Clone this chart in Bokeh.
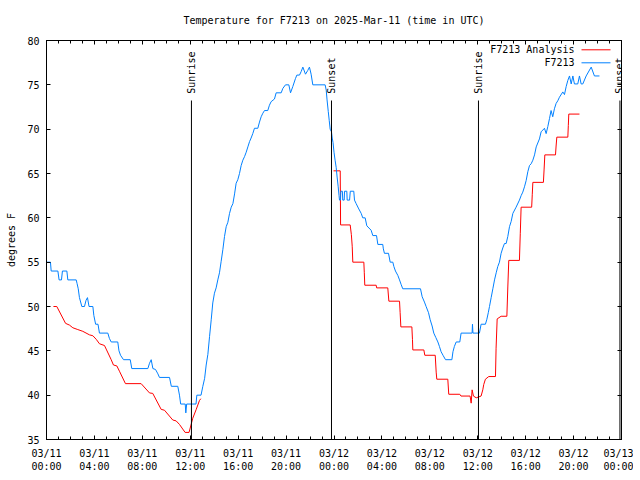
import math
from bokeh.plotting import figure
from bokeh.models import FixedTicker, LinearAxis, Range1d, Label
from bokeh.core.properties import value
from bokeh.embed import file_html
from bokeh.resources import INLINE

# ---------------- data ----------------
title_text = "Temperature for F7213 on 2025-Mar-11 (time in UTC)"
y_label = "degrees F"

tick_hours = [0, 4, 8, 12, 16, 20, 24, 28, 32, 36, 40, 44, 48]
tick_labels = ["03/11\n00:00", "03/11\n04:00", "03/11\n08:00", "03/11\n12:00",
               "03/11\n16:00", "03/11\n20:00", "03/12\n00:00", "03/12\n04:00",
               "03/12\n08:00", "03/12\n12:00", "03/12\n16:00", "03/12\n20:00",
               "03/13\n00:00"]
minor_hours = list(range(0, 49))
y_ticks = [35, 40, 45, 50, 55, 60, 65, 70, 75, 80]

# F7213 observations (hours since 03/11 00:00 UTC, deg F)
obs_hours = [0.00, 0.33, 0.39, 0.95, 1.05, 1.25, 1.33, 1.70, 1.78, 2.48, 2.55, 2.65, 2.75, 2.95,
             3.17, 3.30, 3.42, 3.55, 3.87, 3.95, 4.10, 4.30, 4.42, 5.12, 5.25, 5.40, 5.95, 6.05,
             6.18, 6.43, 6.99, 7.12, 8.46, 8.60, 8.74, 8.88, 9.10, 9.30, 9.43, 10.27, 10.42, 10.96,
             11.10, 11.20, 11.58, 11.63, 11.70, 12.48, 12.55, 12.90, 13.05, 13.20, 13.33, 13.47,
             13.61, 13.75, 13.88, 14.02, 14.16, 14.30, 14.44, 14.58, 14.72, 14.86, 15.00, 15.14,
             15.28, 15.42, 15.56, 15.70, 15.83, 15.97, 16.11, 16.25, 16.39, 16.53, 16.67, 16.81,
             16.95, 17.08, 17.22, 17.36, 17.64, 17.78, 17.92, 18.06, 18.20, 18.47, 18.61, 18.75,
             19.03, 19.17, 19.59, 19.73, 19.95, 20.23, 20.37, 20.56, 20.78, 20.90, 21.12, 21.26,
             21.40, 21.62, 21.80, 21.95, 22.09, 22.23, 23.26, 23.35, 23.42, 23.52, 23.60, 23.68,
             23.79, 23.85, 23.92, 24.00, 24.09, 24.18, 24.26, 24.35, 24.42, 24.46, 24.54, 24.57,
             24.70, 24.73, 24.85, 24.88, 25.07, 25.10, 25.30, 25.36, 25.65, 25.71, 25.85, 26.07,
             26.27, 26.40, 26.60, 26.74, 27.10, 27.24, 27.55, 27.66, 28.07, 28.12, 28.21, 28.55,
             28.69, 28.91, 29.00, 29.13, 29.33, 29.47, 29.60, 29.74, 31.22, 31.36, 31.55, 31.69,
             31.89, 32.03, 32.19, 32.33, 32.50, 32.67, 32.80, 32.94, 33.10, 33.31, 33.84, 33.93,
             34.05, 34.20, 34.50, 34.61, 35.53, 35.56, 35.60, 36.14, 36.28, 36.64, 36.75, 36.88,
             36.98, 37.12, 37.26, 37.40, 37.54, 37.67, 37.81, 37.95, 38.09, 38.23, 38.37, 38.51,
             38.65, 38.79, 38.93, 39.20, 39.48, 39.62, 39.76, 39.90, 40.04, 40.18, 40.32, 40.46,
             40.60, 40.74, 40.88, 41.15, 41.29, 41.43, 41.57, 41.71, 41.85, 41.99, 42.12, 42.26,
             42.40, 42.54, 42.68, 42.82, 43.10, 43.24, 43.38, 43.52, 43.66, 43.80, 43.94, 44.07,
             44.35, 44.49, 44.63, 44.77, 45.05, 45.47, 45.74, 46.16]
obs_temps = [55, 55, 54, 54, 53, 53, 54, 54, 53, 53, 52.6, 52, 51, 50,
             50, 50.7, 51, 50, 50, 49, 48, 48, 47, 47, 46.4, 46, 46, 45,
             44.5, 44, 44, 43, 43, 43.6, 44, 43, 42.9, 42.4, 42, 42, 41, 41,
             40, 39, 39, 38, 39, 39, 40, 40, 41, 41.9, 43.4, 44.6,
             46.6, 48.5, 50.4, 51.5, 52.1, 53, 53.8, 55.1, 56.4, 57.9, 59, 59.5,
             60.5, 61.2, 61.6, 62.7, 63.9, 64.3, 65, 65.9, 66.5, 66.9, 67.4, 68,
             68.6, 69, 69.5, 70.1, 70.1, 70.8, 71.4, 71.8, 72.1, 72.1, 72.7, 73.1,
             73.4, 74.1, 74.1, 74.6, 75, 75, 74.1, 74.8, 75.7, 76.1, 76.1, 76.5,
             77, 76.2, 76.6, 77, 76.2, 75, 75, 74.4, 73.3, 72, 71, 70,
             69.7, 69, 68.5, 67.4, 66.5, 65.7, 64.6, 63.5, 62.5, 62, 62, 63,
             63, 62, 62, 63, 63, 62, 62, 63, 63, 62, 61.6, 61,
             60.5, 60, 60, 59.1, 58.6, 58, 58, 57, 57, 56.5, 56, 56,
             55, 55, 54.5, 54, 53.5, 53, 52.5, 52, 52, 51.1, 50.5, 50,
             49.3, 48.5, 47.8, 47, 46.5, 46, 45.5, 44.9, 44.5, 44, 44, 44.9,
             45.5, 46, 46, 47, 47, 48, 47, 47, 48, 48, 48.5, 49.3,
             50, 51, 52, 53, 53.8, 54.5, 55, 56, 56.6, 57.1, 57.1, 57.9,
             59, 59.6, 60.5, 61.2, 62, 62.5, 62.9, 63.5, 64.2, 65.2, 65.9, 66.1,
             66.5, 67.1, 68, 68.9, 69.7, 69.9, 70.1, 69.5, 70.3, 71.2, 72.1, 71.4,
             72.3, 72.9, 73.2, 73.6, 74.2, 73.9, 74.8, 75.5, 76, 75.1, 76, 75.1,
             75.1, 76, 75.1, 75.1, 76, 77, 76, 76]

# F7213 Analysis (NaN = no analysis)
nan = float("nan")
ana_hours = [0.58, 0.86, 1.59, 1.92, 2.20, 2.61, 3.03, 3.59, 3.87, 4.15, 4.42, 4.84, 4.98, 5.40,
             5.59, 5.87, 6.09, 6.59, 7.90, 8.60, 8.87, 9.57, 9.85, 10.54, 10.82, 11.10, 11.57,
             11.90, 12.21, 12.50, 12.77, 12.88, 18.0,
             23.96, 24.52, 24.55, 25.35, 25.45, 25.52, 25.57, 26.49, 26.53, 26.57, 27.52, 27.56,
             28.49, 28.58, 29.47, 29.52, 29.58, 30.50, 30.55, 30.58, 31.50, 31.58, 32.45, 32.53,
             32.58, 33.50, 33.58, 34.50, 34.60, 35.36, 35.45, 35.53, 35.64, 35.87, 36.28, 36.42,
             36.50, 36.64, 36.92, 37.48, 37.53, 37.62, 37.95, 38.43, 38.51, 38.59, 39.48, 39.55,
             39.62, 40.50, 40.55, 40.60, 41.48, 41.54, 41.60, 42.49, 42.54, 42.60, 43.52, 43.56,
             43.60, 44.49]
ana_temps = [50, 50, 48.1, 47.9, 47.6, 47.4, 47.2, 46.8, 46.7, 46.3, 45.8, 45.6, 45.2, 44,
             43.4, 43.3, 42.7, 41.3, 41.3, 40.25, 40.2, 38.4, 38.3, 37.2, 37.1, 36.7, 35.8,
             35.8, 37.4, 38.4, 39.4, 39.6, nan,
             65.3, 65.3, 59.2, 59.2, 58.1, 56.8, 55, 55, 53.8, 52.4, 52.4, 52.1,
             52.1, 50.6, 50.6, 49.3, 47.7, 47.7, 46.3, 45.1, 45.1, 44.5, 44.5, 42.6,
             41.8, 41.8, 40.1, 40.1, 39.9, 39.9, 39.1, 40.6, 39.9, 39.7, 39.9, 40.6,
             41.2, 41.8, 42.1, 42.1, 45.3, 48.6, 48.9, 48.9, 52.2, 55.2, 55.2, 58.2,
             61.2, 61.2, 62.6, 64.0, 64.0, 65.5, 67.1, 67.1, 68.1, 69.1, 69.1, 70.4,
             71.7, 71.7]

event_hours = [12.10, 23.79, 36.06, 47.87]
event_names = ["Sunrise", "Sunset", "Sunrise", "Sunset"]

legend_names = ["F7213 Analysis", "F7213"]

# ---------------- style ----------------
FONT = "DejaVu Sans Mono"
FS = "10px"
RED = "#ff0000"
BLUE = "#0080ff"
EVENT_TOP = 73.23
EVENT_LABEL_Y = 74.0
FW, FH = 575, 399

p = figure(frame_width=FW, frame_height=FH, title=None,
           x_range=Range1d(0, 48), y_range=Range1d(35, 80),
           output_backend="svg", toolbar_location=None,
           min_border_left=46, min_border_right=12, min_border_top=40, min_border_bottom=36,
           background_fill_color="white", border_fill_color="white")
p.grid.visible = False
p.outline_line_color = "black"
p.outline_line_width = 1


def style_axis(ax, labels=True):
    ax.major_tick_in = 4
    ax.major_tick_out = 0
    ax.minor_tick_in = 3
    ax.minor_tick_out = 0
    ax.axis_line_color = "black"
    ax.major_tick_line_color = "black"
    ax.minor_tick_line_color = "black"
    ax.major_label_text_font = FONT
    ax.major_label_text_font_size = FS
    ax.axis_label_text_font = FONT
    ax.axis_label_text_font_size = FS
    ax.axis_label_text_font_style = "normal"
    ax.axis_label_text_color = "black"
    if labels:
        ax.major_label_text_color = "black"
    else:
        ax.major_label_text_color = None
        ax.major_label_standoff = 0


xt = FixedTicker(ticks=tick_hours, minor_ticks=minor_hours)
yt = FixedTicker(ticks=y_ticks, minor_ticks=[])

p.xaxis.ticker = xt
p.xaxis.major_label_overrides = {h: l for h, l in zip(tick_hours, tick_labels)}
style_axis(p.xaxis[0])
p.xaxis.major_label_standoff = 8
p.xaxis.major_label_text_line_height = 1.2

p.yaxis.ticker = yt
style_axis(p.yaxis[0])
p.yaxis.major_label_standoff = 7
p.yaxis.axis_label = y_label
p.yaxis.axis_label_standoff = 7

top_ax = LinearAxis(ticker=FixedTicker(ticks=tick_hours, minor_ticks=minor_hours))
style_axis(top_ax, labels=False)
top_ax.axis_label = title_text
top_ax.axis_label_standoff = 15
p.add_layout(top_ax, "above")
right_ax = LinearAxis(ticker=FixedTicker(ticks=y_ticks, minor_ticks=[]))
style_axis(right_ax, labels=False)
p.add_layout(right_ax, "right")

# data
p.line(ana_hours, ana_temps, line_color=RED, line_width=1)
p.line(obs_hours, obs_temps, line_color=BLUE, line_width=1)

# sunrise / sunset markers
p.segment(x0=event_hours, y0=[35] * len(event_hours), x1=event_hours,
          y1=[EVENT_TOP] * len(event_hours), line_color="black", line_width=1)
for h, name in zip(event_hours, event_names):
    p.add_layout(Label(x=h, y=EVENT_LABEL_Y, text=name, angle=math.pi / 2,
                       text_align="left", text_baseline="middle",
                       text_font=FONT, text_font_size=FS, text_color="black"))

# legend (gnuplot style: text then sample), in frame pixel space
p.extra_x_ranges = {"px": Range1d(0, FW)}
p.extra_y_ranges = {"px": Range1d(0, FH)}
leg_y = [389.7, 376.7]
p.segment(x0=[535, 535], y0=leg_y, x1=[564, 564], y1=leg_y,
          line_color=[RED, BLUE], line_width=1, x_range_name="px", y_range_name="px")
p.text(x=[528, 528], y=leg_y, text=legend_names, text_align="right", text_baseline="middle",
       text_font=value(FONT), text_font_size=FS, text_color="black",
       x_range_name="px", y_range_name="px")

open("out.html", "w").write(file_html(p, INLINE))
